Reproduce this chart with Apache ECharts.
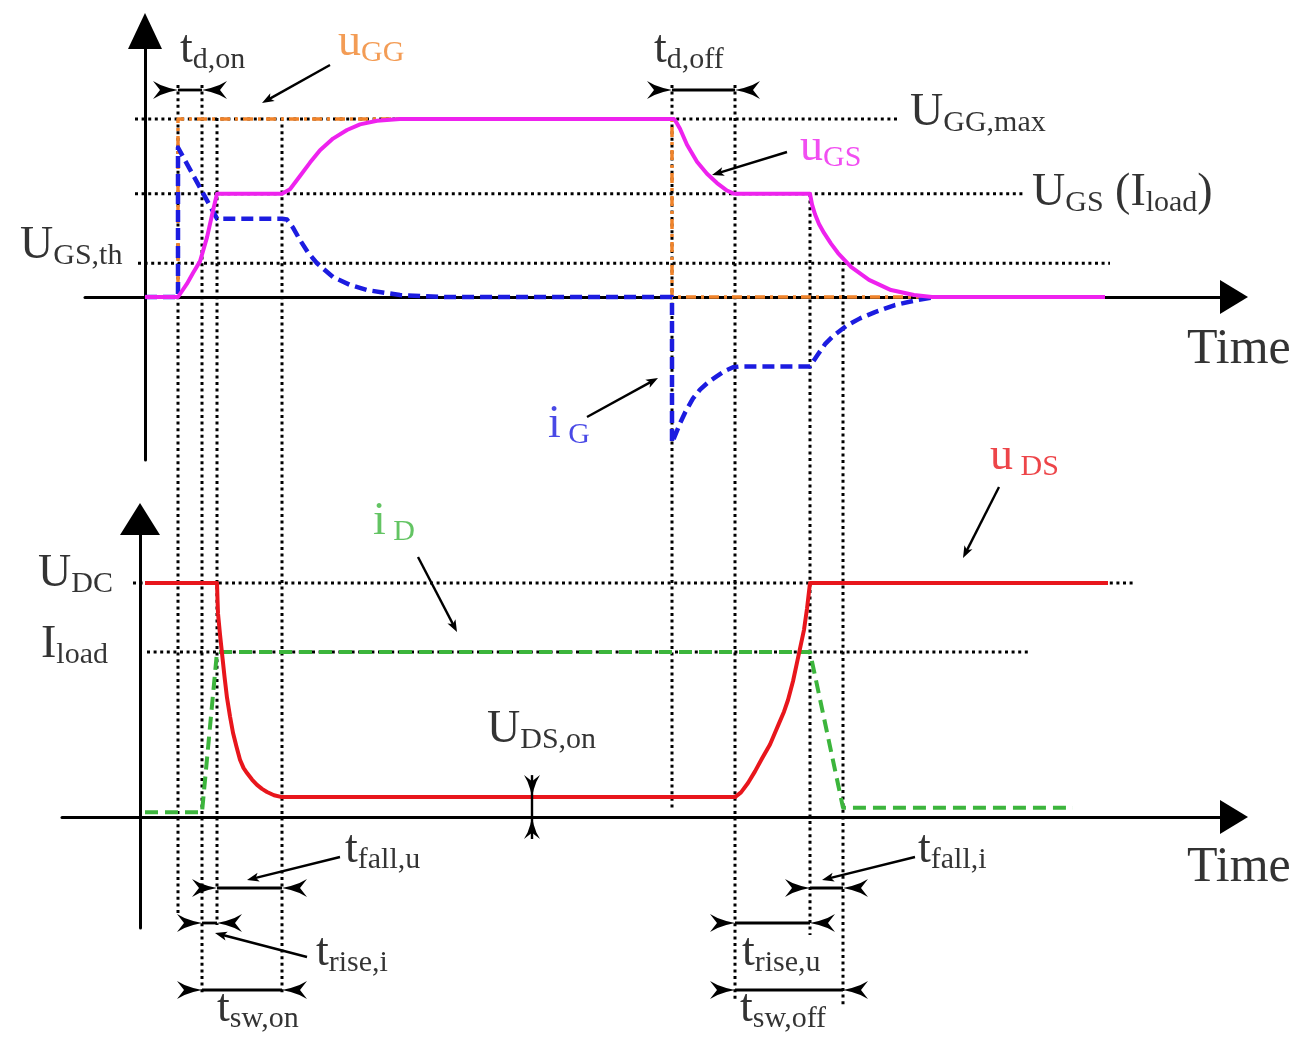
<!DOCTYPE html>
<html>
<head>
<meta charset="utf-8">
<title>MOSFET switching waveforms</title>
<script src="https://cdn.jsdelivr.net/npm/echarts@6/dist/echarts.min.js"></script>
<style>
  html, body { margin: 0; padding: 0; background: #ffffff; }
  #chart { width: 1304px; height: 1041px; }
</style>
</head>
<body>
<div id="chart"></div>
<script>
// ---------- data ----------
// switching instants (time units): turn-on and turn-off sequences
const tOn  = [3.3, 5.7, 7.2, 13.7];
const tOff = [52.7, 59.0, 66.5, 69.8];

// gate side levels (V)
const UGG_MAX = 10;
const UGS_PLATEAU = 5.8;
const UGS_TH = 1.9;
// drain side levels
const U_DC = 10;
const I_LOAD = 7.05;
const UDS_ON = 0.85;

// gate driver voltage
const uGG = [[0, 0], [3.3, 0], [3.3, 10], [52.7, 10], [52.7, 0], [96, 0]];

// gate-source voltage
const uGS = [
  [0, 0], [3.3, 0], [3.5, 0.1], [4.2, 0.75], [4.8, 1.35], [5.5, 2.0], [6.2, 3.35], [6.8, 4.85], [7.2, 5.8],
  [13.7, 5.8], [14.5, 6.05], [15.5, 6.8], [16.5, 7.55], [17.5, 8.25], [18.8, 8.9], [20.2, 9.38],
  [21.5, 9.7], [23.2, 9.9], [25.5, 10], [52.9, 10],
  [53.2, 9.75], [53.5, 9.45], [54.2, 8.55], [55.2, 7.6], [56.2, 6.92], [57.2, 6.4], [58.2, 5.98], [58.8, 5.82], [59.2, 5.8],
  [66.5, 5.8], [66.7, 5.2], [67.0, 4.65], [67.4, 4.1], [67.9, 3.6], [68.6, 3.0], [69.3, 2.47],
  [70.6, 1.69], [72.4, 0.96], [74.6, 0.39], [76.9, 0.11], [78.7, 0], [96, 0]
];

// gate current
const iG = [
  [0, 0], [3.3, 0], [3.3, 8.4], [7.2, 4.4], [13.7, 4.4], [14.2, 4.35], [14.8, 3.9], [15.5, 3.2],
  [16.3, 2.5], [17.2, 1.9], [18.8, 1.12], [20.5, 0.68], [22.2, 0.39], [25.5, 0.11], [30, 0],
  [52.7, 0], [52.7, -8.2], [53.5, -7.1], [54.0, -6.5], [54.8, -5.7], [55.5, -5.2], [56.3, -4.8],
  [57.2, -4.45], [58.0, -4.15], [58.8, -3.95], [59.5, -3.9], [66.5, -3.9], [67.2, -3.3],
  [68.0, -2.65], [68.8, -2.2], [70.2, -1.6], [71.5, -1.2], [73.0, -0.85], [75.0, -0.45],
  [77.0, -0.2], [79.0, 0]
];

// drain-source voltage
const uDS = [
  [0, 10], [7.2, 10], [7.25, 9.3], [7.3, 8.7], [7.5, 7.8], [7.7, 7.0], [7.95, 6.0], [8.2, 5.1],
  [8.5, 4.3], [8.8, 3.6], [9.15, 3.0], [9.5, 2.45], [9.85, 2.1], [10.2, 1.88], [10.7, 1.6],
  [11.2, 1.37], [11.7, 1.2], [12.2, 1.07], [12.9, 0.93], [13.7, 0.85],
  [59.0, 0.85], [59.6, 1.05], [60.3, 1.45], [61.0, 1.95], [61.7, 2.5], [62.5, 3.1], [63.0, 3.6],
  [63.4, 4.0], [63.9, 4.5], [64.3, 5.0], [64.8, 5.8], [65.2, 6.6], [65.6, 7.4], [65.9, 8.0],
  [66.2, 8.9], [66.5, 10], [96.3, 10]
];

// drain current
const iD = [[0, 0.2], [5.7, 0.2], [7.2, 7.05], [66.5, 7.05], [69.8, 0.4], [92.8, 0.4]];

// time of the U_DS,on gap marker
const tUdsOnMark = 38.7;

// ---------- layout (annotation rows in page pixels, times in axis units) ----------
const INK = '#000000';
const FONT = 'Liberation Serif';
const C_ORANGE = '#f0832a';
const C_MAGENTA = '#ee22ee';
const C_BLUE = '#1c1ce0';
const C_RED = '#e8161c';
const C_GREEN = '#3cb53c';

// extent of the horizontal reference lines [from, to] in time units
const levelSpan = {
  ggMax: [-1, 75.5], plateau: [-1, 88], th: [-0.7, 96.5],
  dc: [-1.2, 99], load: [0.2, 88.5]
};

// vertical guide extent for each switching instant [top row, bottom row]
const guideRows = [[85, 915], [85, 995], [118, 925], [118, 995], [85, 810], [85, 1000], [194, 935], [262, 1007]];

// interval markers: start, end, row
const intervalRows = [
  [tOn[0], tOn[1], 90],    // t d,on
  [tOff[0], tOff[1], 90],  // t d,off
  [tOn[2], tOn[3], 888],   // t fall,u
  [tOn[1], tOn[2], 923],   // t rise,i
  [tOn[1], tOn[3], 990],   // t sw,on
  [tOff[2], tOff[3], 888], // t fall,i
  [tOff[1], tOff[2], 923], // t rise,u
  [tOff[1], tOff[3], 990]  // t sw,off
];

// pointer lines: from (t,row) to (t,row)
const pointers = [
  [18.5, 65, 11.7, 103],
  [64.2, 152, 56.7, 175],
  [44.2, 417, 51.3, 378],
  [85.4, 487, 81.8, 558],
  [27.3, 557, 31.2, 632],
  [19.5, 857, 10.2, 880],
  [16.2, 957, 7.0, 933],
  [77.0, 857, 67.7, 880]
];

// text annotations
const notes = [
  { text: '{m|t}{s|d,on}', at: [3.5, 50] },
  { text: '{m|u}{s|GG}', at: [19.3, 43], color: C_ORANGE },
  { text: '{m|t}{s|d,off}', at: [50.9, 50] },
  { text: '{m|U}{s|GG,max}', at: [76.5, 113] },
  { text: '{m|u}{s|GS}', at: [65.5, 148], color: C_MAGENTA },
  { text: '{m|U}{s|GS}{m| (I}{s|load}{m|)}', at: [88.7, 193] },
  { text: '{m|U}{s|GS,th}', at: [-12.5, 246] },
  { text: '{T|Time}', at: [104.2, 350] },
  { text: '{m|i}{s| G}', at: [40.3, 425], color: C_BLUE },
  { text: '{m|u}{s| DS}', at: [84.5, 457], color: C_RED },
  { text: '{m|i}{s| D}', at: [22.8, 522], color: C_GREEN },
  { text: '{m|U}{s|DC}', at: [-10.7, 574] },
  { text: '{m|I}{s|load}', at: [-10.4, 645] },
  { text: '{m|U}{s|DS,on}', at: [34.2, 730] },
  { text: '{m|t}{s|fall,u}', at: [20.0, 850] },
  { text: '{m|t}{s|rise,i}', at: [17.1, 953] },
  { text: '{m|t}{s|sw,on}', at: [7.2, 1009] },
  { text: '{m|t}{s|fall,i}', at: [77.3, 850] },
  { text: '{m|t}{s|rise,u}', at: [59.7, 953] },
  { text: '{m|t}{s|sw,off}', at: [59.5, 1009] },
  { text: '{T|Time}', at: [104.2, 868] }
];

// ---------- helpers ----------
// barbed arrowhead polygon: tip at `tip`, pointing along unit vector `dir`
function barb(tip, dir, len, half) {
  const ux = dir[0], uy = dir[1];
  const nx = -uy, ny = ux;
  const shape = [[0, 0], [-0.35, -0.22], [-0.7, -0.55], [-1, -1], [-0.72, 0], [-1, 1], [-0.7, 0.55], [-0.35, 0.22]];
  return shape.map(function (p) {
    return [tip[0] + ux * p[0] * len + nx * p[1] * half, tip[1] + uy * p[0] * len + ny * p[1] * half];
  });
}

const DOTS = { width: 3, dash: [3, 3.6] };

function levelLine(grid, value, span) {
  return {
    type: 'line', xAxisIndex: grid, yAxisIndex: grid, silent: true, z: 2,
    symbol: 'none', data: [[span[0], value], [span[1], value]],
    lineStyle: { color: INK, width: DOTS.width, type: DOTS.dash }
  };
}

function curve(grid, data, color, width, type, z) {
  return {
    type: 'line', xAxisIndex: grid, yAxisIndex: grid, silent: true, z: z,
    symbol: 'none', data: data,
    lineStyle: { color: color, width: width, type: type, cap: 'butt', join: 'round' }
  };
}

const axisLineStyle = { color: '#000', width: 3 };
const hidden = { axisTick: { show: false }, axisLabel: { show: false }, splitLine: { show: false } };

const chart = echarts.init(document.getElementById('chart'), null, { renderer: 'canvas' });

const option = {
  animation: false,
  backgroundColor: '#ffffff',
  grid: [
    { left: 85, top: 31, width: 1149, height: 429 },
    { left: 62, top: 519, width: 1172, height: 409 },
    { left: 0, top: 0, width: 1304, height: 1041 }
  ],
  xAxis: [
    Object.assign({ gridIndex: 0, type: 'value', min: -6, max: 108.9,
      axisLine: { show: true, onZero: true, symbol: ['none', 'triangle'], symbolSize: [34, 28], lineStyle: axisLineStyle } }, hidden),
    Object.assign({ gridIndex: 1, type: 'value', min: -8.3, max: 108.9,
      axisLine: { show: true, onZero: true, symbol: ['none', 'triangle'], symbolSize: [34, 28], lineStyle: axisLineStyle } }, hidden),
    { gridIndex: 2, type: 'value', min: -14.5, max: 115.9, show: false }
  ],
  yAxis: [
    Object.assign({ gridIndex: 0, type: 'value', min: -9.157, max: 14.944,
      axisLine: { show: true, onZero: true, symbol: ['none', 'triangle'], symbolSize: [34, 36], lineStyle: axisLineStyle } }, hidden),
    Object.assign({ gridIndex: 1, type: 'value', min: -4.744, max: 12.735, position: 'left', offset: -78,
      axisLine: { show: true, onZero: false, symbol: ['none', 'triangle'], symbolSize: [40, 32], lineStyle: axisLineStyle } }, hidden),
    { gridIndex: 2, type: 'value', min: 0, max: 1041, inverse: true, show: false }
  ],
  series: [
    // reference levels
    levelLine(0, UGG_MAX, levelSpan.ggMax),
    levelLine(0, UGS_PLATEAU, levelSpan.plateau),
    levelLine(0, UGS_TH, levelSpan.th),
    levelLine(1, U_DC, levelSpan.dc),
    levelLine(1, I_LOAD, levelSpan.load),

    // vertical guides at the switching instants
    {
      type: 'custom', xAxisIndex: 2, yAxisIndex: 2, silent: true, z: 2,
      data: tOn.concat(tOff).map(function (t, i) { return [t, guideRows[i][0], guideRows[i][1]]; }),
      encode: { x: 0, y: [1, 2] },
      renderItem: function (params, api) {
        const a = api.coord([api.value(0), api.value(1)]);
        const b = api.coord([api.value(0), api.value(2)]);
        return { type: 'line', shape: { x1: a[0], y1: a[1], x2: b[0], y2: b[1] },
          style: { stroke: INK, lineWidth: DOTS.width, lineDash: DOTS.dash } };
      }
    },

    // gate waveforms
    curve(0, uGG, C_ORANGE, 3.5, [10, 5, 3, 5], 3),
    curve(0, iG, C_BLUE, 4.5, [12, 6], 4),
    curve(0, uGS, C_MAGENTA, 4, 'solid', 5),

    // drain waveforms
    curve(1, iD, C_GREEN, 4, [13, 7], 3),
    curve(1, uDS, C_RED, 4, 'solid', 4),

    // U_DS,on gap marker
    {
      type: 'custom', xAxisIndex: 1, yAxisIndex: 1, silent: true, z: 6,
      data: [[tUdsOnMark, UDS_ON, 0]],
      encode: { x: 0, y: [1, 2] },
      renderItem: function (params, api) {
        const top = api.coord([api.value(0), api.value(1)]);
        const bot = api.coord([api.value(0), api.value(2)]);
        return { type: 'group', children: [
          { type: 'line', shape: { x1: top[0], y1: top[1] - 22, x2: bot[0], y2: bot[1] + 22 },
            style: { stroke: INK, lineWidth: 2.4 } },
          { type: 'polygon', shape: { points: barb(top, [0, 1], 22, 8) }, style: { fill: INK } },
          { type: 'polygon', shape: { points: barb(bot, [0, -1], 22, 8) }, style: { fill: INK } }
        ] };
      }
    },

    // time interval markers
    {
      type: 'custom', xAxisIndex: 2, yAxisIndex: 2, silent: true, z: 6,
      data: intervalRows,
      encode: { x: [0, 1], y: 2 },
      renderItem: function (params, api) {
        const a = api.coord([api.value(0), api.value(2)]);
        const b = api.coord([api.value(1), api.value(2)]);
        return { type: 'group', children: [
          { type: 'line', shape: { x1: a[0], y1: a[1], x2: b[0], y2: b[1] }, style: { stroke: INK, lineWidth: 2.8 } },
          { type: 'polygon', shape: { points: barb(a, [1, 0], 25, 9) }, style: { fill: INK } },
          { type: 'polygon', shape: { points: barb(b, [-1, 0], 25, 9) }, style: { fill: INK } }
        ] };
      }
    },

    // pointer lines from names to curves
    {
      type: 'custom', xAxisIndex: 2, yAxisIndex: 2, silent: true, z: 6,
      data: pointers,
      encode: { x: [0, 2], y: [1, 3] },
      renderItem: function (params, api) {
        const a = api.coord([api.value(0), api.value(1)]);
        const b = api.coord([api.value(2), api.value(3)]);
        const dx = b[0] - a[0], dy = b[1] - a[1];
        const l = Math.sqrt(dx * dx + dy * dy);
        const u = [dx / l, dy / l];
        const head = [[0, 0], [-1, -1], [-0.75, 0], [-1, 1]].map(function (p) {
          return [b[0] + u[0] * p[0] * 12 - u[1] * p[1] * 4.5, b[1] + u[1] * p[0] * 12 + u[0] * p[1] * 4.5];
        });
        return { type: 'group', children: [
          { type: 'line', shape: { x1: a[0], y1: a[1], x2: b[0] - u[0] * 8, y2: b[1] - u[1] * 8 },
            style: { stroke: INK, lineWidth: 2.4 } },
          { type: 'polygon', shape: { points: head }, style: { fill: INK } }
        ] };
      }
    },

    // text
    {
      type: 'scatter', xAxisIndex: 2, yAxisIndex: 2, silent: true, z: 7,
      symbolSize: 1, itemStyle: { color: 'rgba(0,0,0,0)' },
      data: notes.map(function (n) {
        return { value: n.at, rt: n.text, label: { color: n.color || INK } };
      }),
      label: {
        show: true, position: 'inside', align: 'left', verticalAlign: 'middle',
        formatter: function (p) { return p.data.rt; },
        rich: {
          m: { fontFamily: FONT, fontSize: 46, lineHeight: 50 },
          s: { fontFamily: FONT, fontSize: 30, lineHeight: 14, verticalAlign: 'bottom' },
          T: { fontFamily: FONT, fontSize: 50, lineHeight: 56 }
        }
      }
    }
  ]
};

chart.setOption(option);
</script>
</body>
</html>
